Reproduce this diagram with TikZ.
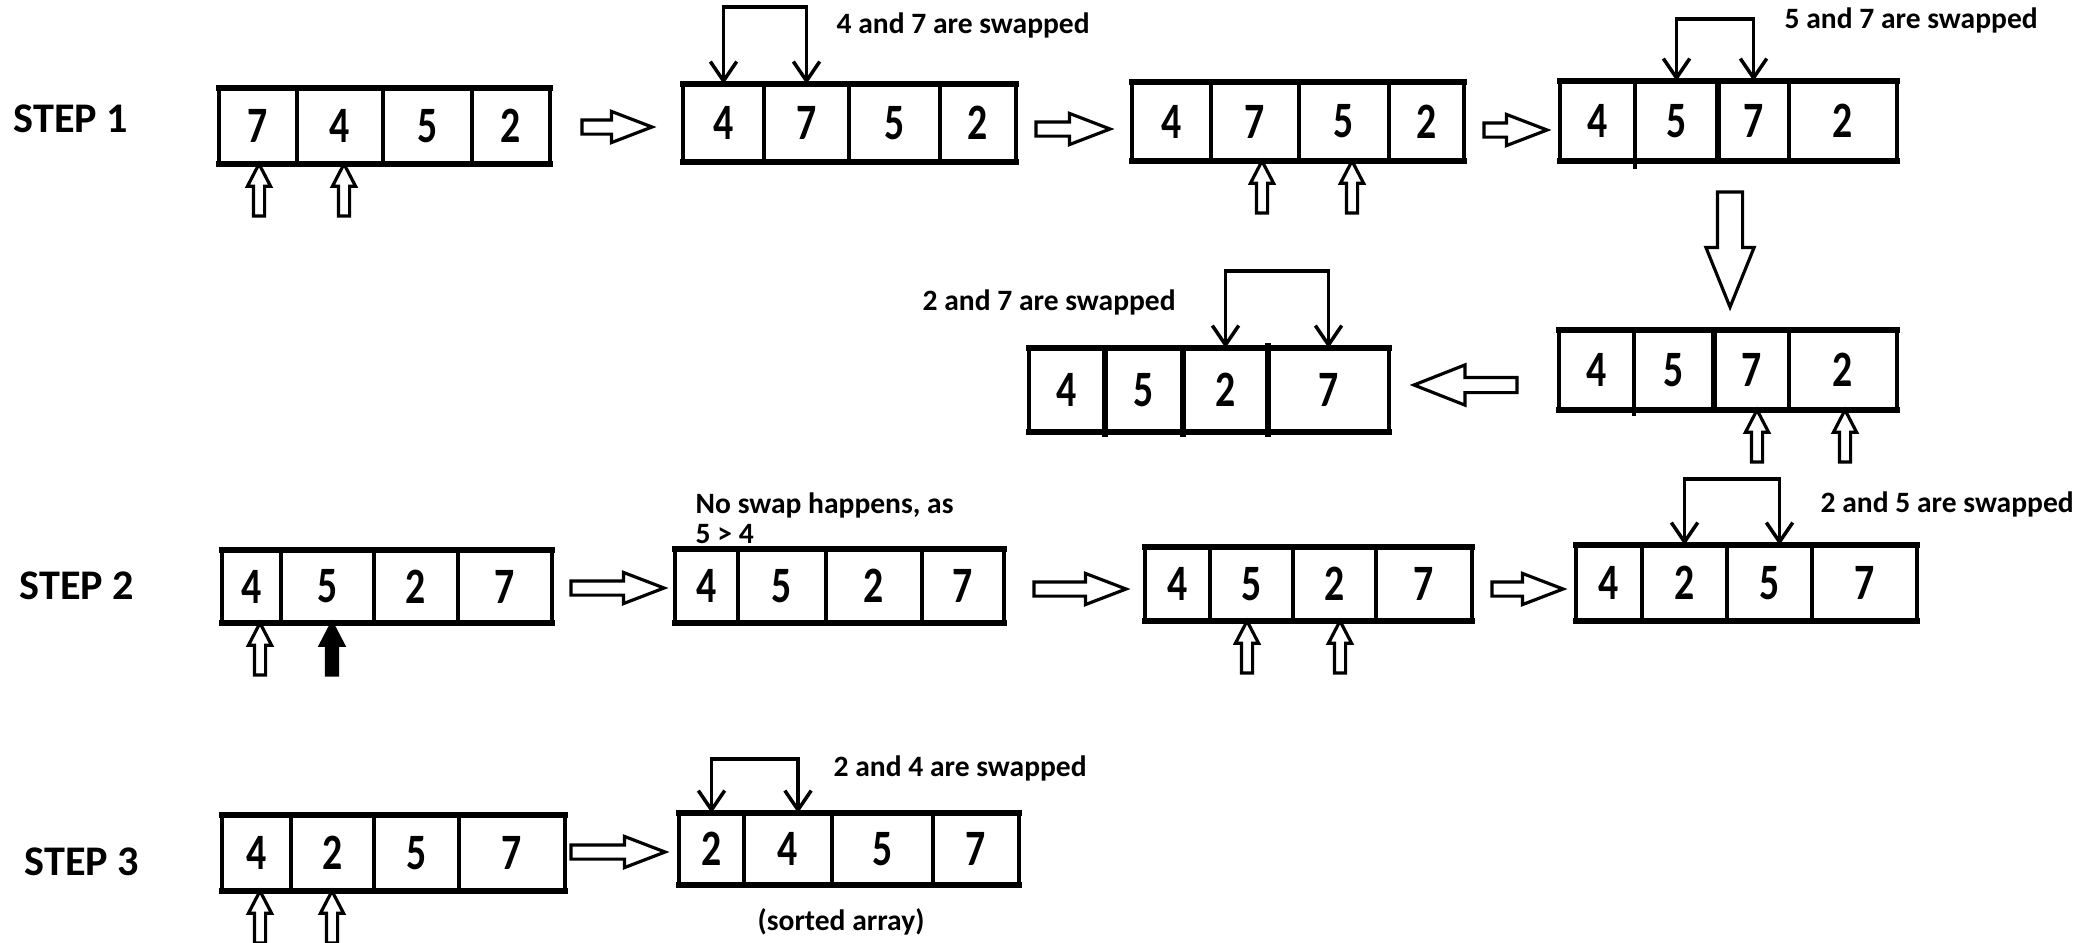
\documentclass[tikz,border=0pt]{standalone}
\usepackage{fontspec}
\usepackage{graphicx}
\setmainfont{Carlito}
\usetikzlibrary{fit,shapes.arrows,arrows.meta}

\tikzset{
  cell/.style={draw, line width=1pt, inner sep=0pt, outer sep=0pt},
  num/.style={font=\fontsize{14.5}{16}\selectfont, inner sep=0pt},
  rimline/.style={line width=1.6pt, line cap=rect},
  thickdiv/.style={line width=1.6pt},
  thindiv/.style={line width=1pt},
  steplabel/.style={font=\fontsize{12}{15}\selectfont\bfseries, anchor=west, inner sep=0pt},
  note/.style={font=\fontsize{8.4}{8.6}\selectfont\bfseries, anchor=west, inner sep=0pt, align=left},
  swapline/.style={line width=1pt, {Straight Barb[length=5.5pt,width=7.5pt]}-{Straight Barb[length=5.5pt,width=7.5pt]}},
  blockarrow/.style={single arrow, draw, fill=white, line width=0.9pt, inner xsep=0pt, minimum width=0pt, outer sep=0pt},
  rarr/.style={blockarrow, inner ysep=0.055cm, single arrow head extend=0.085cm, single arrow tip angle=42, anchor=tail, minimum height=#1},
  ptr/.style={blockarrow, inner ysep=0.04cm, single arrow head extend=0.06cm, single arrow tip angle=55, minimum height=0.52cm, rotate=90, anchor=tip},
}

\newcommand\narrowdigit[1]{\scalebox{0.78}[1]{\bfseries #1}}
\newcommand\mkarr[4]{%
  \foreach \xa/\xb/\v [count=\i] in {#4} {\node[cell, fit={(\xa,#2) (\xb,#3)}, label={[num]center:\narrowdigit{\v}}] (#1-\i) {};}
  \draw[rimline] (#1-1.north west) -- (#1-4.north east);
  \draw[rimline] (#1-1.south west) -- (#1-4.south east);
}

\begin{document}
\begin{tikzpicture}[x=0.01cm, y=-0.01cm]
\useasboundingbox (0,0) rectangle (2080,942);
\clip (0,0) rectangle (2080,942);

% step labels
\node[steplabel] (s1) at (13,119) {STEP 1};
\node[steplabel] (s2) at (19,586) {STEP 2};
\node[steplabel] (s3) at (24,862) {STEP 3};

% arrays
\mkarr{a1}{88}{164}{219/297/7, 297/383/4, 383/472/5, 472/550/2}
\mkarr{a2}{84}{162}{683/764/4, 764/849/7, 849/940/5, 940/1016/2}
\mkarr{a3}{82}{161}{1132/1211/4, 1211/1299/7, 1299/1389/5, 1389/1464/2}
\mkarr{a4}{81}{161}{1560/1635/4, 1635/1718/5, 1718/1789/7, 1789/1897/2}
\mkarr{a5}{330}{410}{1559/1634/4, 1634/1714/5, 1714/1789/7, 1789/1897/2}
\mkarr{a6}{348}{432}{1029/1105/4, 1105/1183/5, 1183/1268/2, 1268/1389/7}
\mkarr{b1}{550}{623}{222/281/4, 281/374/5, 374/458/2, 458/552/7}
\mkarr{b2}{549}{623}{675/738/4, 738/826/5, 826/922/2, 922/1004/7}
\mkarr{b3}{547}{621}{1145/1210/4, 1210/1293/5, 1293/1376/2, 1376/1472/7}
\mkarr{b4}{545}{621}{1576/1642/4, 1642/1727/2, 1727/1812/5, 1812/1917/7}
\mkarr{c1}{815}{891}{222/291/4, 291/374/2, 374/459/5, 459/565/7}
\mkarr{c2}{813}{885}{679/744/2, 744/832/4, 832/933/5, 933/1019/7}

% divider details
\draw[thickdiv] (a4-3.north west) -- (a4-3.south west);
\draw[thindiv] (a4-2.south west) -- ++(0,8);
\draw[thickdiv] (a5-3.north west) -- (a5-3.south west);
\draw[thindiv] (a5-2.south west) -- ++(0,6);
\foreach \k in {2,3,4} \draw[thickdiv] (a6-\k.north west) -- ([yshift=-0.05cm]a6-\k.south west);
\draw[thickdiv] (a6-4.north west) -- ([yshift=0.05cm]a6-4.north west);

% swap brackets
\draw[swapline] (a2-1.north) -- ++(0,-77) -| (a2-2.north);
\draw[swapline] (a4-2.north) -- ++(0,-62) -| (a4-3.north);
\draw[swapline] (a6-3.north) -- ++(0,-77) -| (a6-4.north);
\draw[swapline] (b4-2.north) -- ++(0,-66) -| ([xshift=0.1cm]b4-3.north);
\draw[swapline] (c2-1.north) -- ++(0,-54) -| ([xshift=0.1cm]c2-2.north);

% notes
\node[note] (n1) at (836,25) {4 and 7 are swapped};
\node[note] (n2) at (1784,20) {5 and 7 are swapped};
\node[note] (n3) at (922,302) {2 and 7 are swapped};
\node[note] (n4) at (1820,504) {2 and 5 are swapped};
\node[note] (n5) at (833,768) {2 and 4 are swapped};
\node[note] (n6) at (695,518) {No swap happens, as\\5 > 4};
\node[note, anchor=center] (n7) at (841,922) {(sorted array)};

% block arrows between arrays
\node[rarr=0.70cm] (r1) at (582,127) {};
\node[rarr=0.74cm] (r2) at (1036,129) {};
\node[rarr=0.63cm] (r3) at (1484,130) {};
\node[rarr=0.93cm] (r4) at (571,588) {};
\node[rarr=0.92cm] (r5) at (1034,589) {};
\node[rarr=0.71cm] (r6) at (1492,589) {};
\node[rarr=0.94cm] (r7) at (571,852) {};
\node[blockarrow, inner ysep=0.11cm, single arrow head extend=0.115cm, single arrow tip angle=44, minimum height=1.15cm, rotate=-90, anchor=tail] (d1) at (1730,192) {};
\node[blockarrow, inner ysep=0.06cm, single arrow head extend=0.125cm, single arrow tip angle=43, minimum height=1.03cm, rotate=180, anchor=tail] (l1) at (1517,385) {};

% pointers
\node[ptr] (pa1) at (259,0 |- a1-1.south) {};
\node[ptr] (pa2) at (344,0 |- a1-2.south) {};
\node[ptr] (pa3) at (1262,0 |- a3-2.south) {};
\node[ptr] (pa4) at (1352,0 |- a3-3.south) {};
\node[ptr] (pa5) at (1757,0 |- a5-3.south) {};
\node[ptr] (pa6) at (1845,0 |- a5-4.south) {};
\node[ptr] (pb1) at (260,0 |- b1-1.south) {};
\node[ptr, fill=black] (pb2) at (332,0 |- b1-2.south) {};
\node[ptr] (pb3) at (1247,0 |- b3-2.south) {};
\node[ptr] (pb4) at (1340,0 |- b3-3.south) {};
\node[ptr] (pc1) at (260,0 |- c1-1.south) {};
\node[ptr] (pc2) at (332,0 |- c1-2.south) {};
\end{tikzpicture}
\end{document}
